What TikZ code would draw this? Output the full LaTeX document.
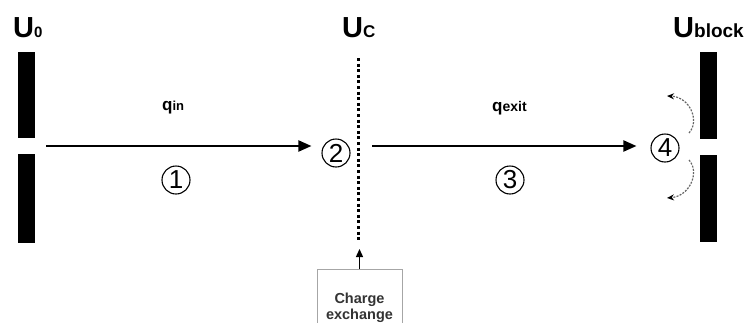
\documentclass[tikz,border=0pt]{standalone}
\usepackage{fontspec}
\setmainfont{Liberation Sans}
\usetikzlibrary{arrows.meta}
\begin{document}
\begin{tikzpicture}[x=1pt,y=-1pt,
  plate/.style={fill=black,draw=none,inner sep=0pt,minimum width=17pt},
  beam/.style={line width=2pt,-{Triangle[length=13pt,width=11pt]}},
  num/.style={circle,draw,line width=1.1pt,minimum size=28pt,inner sep=0pt,font=\fontsize{26}{26}\selectfont},
  lab/.style={anchor=base west,inner sep=0pt,font=\bfseries},
  grid/.style={line width=3pt,dash pattern=on 3pt off 2.6pt},
  bounce/.style={draw=black!60,line width=1.2pt,dash pattern=on 2pt off 1.3pt,-{Stealth[length=7pt,width=6pt,black]}},
  cbox/.style={draw=black!35,line width=1pt,minimum width=85pt,minimum height=76pt,align=center,text=black!80,font=\bfseries\fontsize{14.5}{16}\selectfont}
]
\useasboundingbox (0,0) rectangle (745,322);
% plates
\node[plate,minimum height=86pt] (p0t) at (26.5,95) {};
\node[plate,minimum height=89pt] (p0b) at (26.5,198.5) {};
\node[plate,minimum height=87pt] (pbt) at (708.5,95.5) {};
\node[plate,minimum height=87pt] (pbb) at (708.5,198.5) {};
% labels
\node[lab] (u0) at (13,37) {\fontsize{29}{29}\selectfont U\fontsize{15}{15}\selectfont 0};
\node[lab] (uc) at (342,37) {\fontsize{29}{29}\selectfont U\fontsize{17}{17}\selectfont C};
\node[lab] (ub) at (673,37) {\fontsize{29}{29}\selectfont U\fontsize{19}{19}\selectfont block};
\node[lab] (qin) at (162,110) {\fontsize{17}{17}\selectfont q\fontsize{13}{13}\selectfont in};
\node[lab] (qex) at (492,111) {\fontsize{17}{17}\selectfont q\fontsize{14}{14}\selectfont exit};
% circled numbers
\node[num] (n1) at (176,180) {1};
\node[num] (n2) at (336,153) {2};
\node[num] (n3) at (510,180) {3};
\node[num] (n4) at (665,148) {4};
% beams
\coordinate (a1) at (46,146);
\coordinate (a2) at (372,146);
\draw[beam,shorten >=10pt] (a1) -- (a1 -| n2.west);
\draw[beam,shorten >=14pt] (a2) -- (a2 -| n4.west);
% grid
\coordinate (d1) at (358,58);
\coordinate (d2) at (358,242);
\draw[grid] (d1) -- (d2);
% charge exchange
\node[cbox] (cx) at (359.5,307.5) {Charge\\exchange};
\coordinate (d3) at (359.5,249);
\draw[line width=1.3pt,-{Triangle[length=8pt,width=7pt]}] (cx.north) -- (d3);
% reflected
\coordinate (r1) at (689,133);
\coordinate (r2) at (667,96);
\coordinate (r3) at (689,160);
\coordinate (r4) at (667,198);
\draw[bounce] (r1) .. controls (700,121) and (690,97) .. (r2);
\draw[bounce] (r3) .. controls (700,172) and (690,196) .. (r4);
\end{tikzpicture}
\end{document}
